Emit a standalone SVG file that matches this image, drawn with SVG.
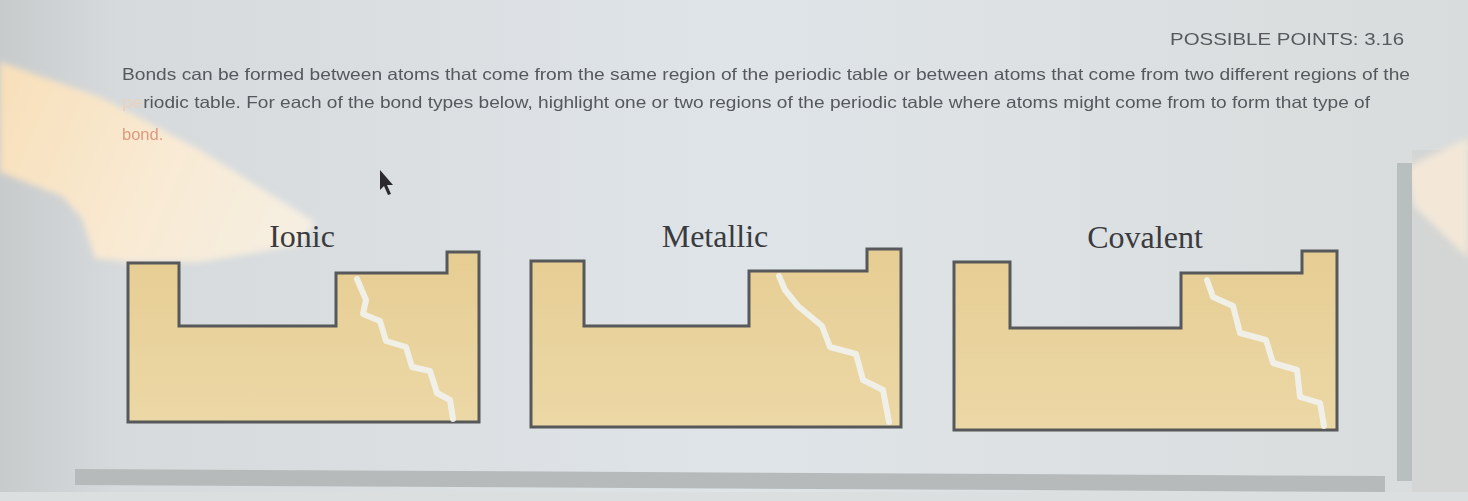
<svg xmlns="http://www.w3.org/2000/svg" width="1468" height="501" viewBox="0 0 1468 501">
<defs>
<style>
.para{font-family:"Liberation Sans",Arial,sans-serif;font-size:16.5px;fill:#55595d}
.pts{font-family:"Liberation Sans",Arial,sans-serif;font-size:17px;fill:#565a5e}
.lbl{font-family:"Liberation Serif","Times New Roman",serif;font-size:32px;fill:#3a3b3e;text-anchor:middle}
.tbl{fill:url(#tfill);stroke:#56585a;stroke-width:3;stroke-linejoin:miter}
.crack{fill:none;stroke:#f1f3ef;stroke-width:6;stroke-linejoin:round;stroke-linecap:round;opacity:0.9}
</style>
<linearGradient id="bg" x1="0" y1="0" x2="1" y2="0">
<stop offset="0" stop-color="#c8cbcc"/>
<stop offset="0.08" stop-color="#d6dadc"/>
<stop offset="0.5" stop-color="#dfe4e8"/>
<stop offset="1" stop-color="#d8dcdc"/>
</linearGradient>
<linearGradient id="tfill" x1="0" y1="0" x2="0" y2="1">
<stop offset="0" stop-color="#e6cd93"/>
<stop offset="1" stop-color="#ecd8a6"/>
</linearGradient>
<linearGradient id="glare" gradientUnits="userSpaceOnUse" x1="0" y1="100" x2="320" y2="240">
<stop offset="0" stop-color="#f8e0bb"/>
<stop offset="0.5" stop-color="#f9ead4"/>
<stop offset="1" stop-color="#f5efe3"/>
</linearGradient>
<filter id="blur" x="-20%" y="-20%" width="140%" height="140%"><feGaussianBlur stdDeviation="3"/></filter>
<filter id="soft"><feGaussianBlur stdDeviation="0.5"/></filter>
</defs>

<rect width="1468" height="501" fill="url(#bg)"/>
<rect x="1412" y="150" width="56" height="351" fill="#d4d6d5"/>

<g id="glare-left" filter="url(#blur)">
<polygon points="0,62 100,97 200,150 315,222 300,245 200,262 130,262 95,258 82,218 62,196 0,172" fill="url(#glare)"/>
</g>
<g id="glare-right" filter="url(#blur)">
<polygon points="1406,168 1468,138 1468,258 1414,206" fill="#f3e7d8"/>
</g>

<g id="frame">
<rect x="1397" y="163" width="15" height="318" fill="#b9bebe"/>
<polygon points="75,469 1385,476 1385,492 75,485" fill="#b6baba"/>
<rect x="0" y="492" width="1468" height="9" fill="#dcdfe0"/>
</g>

<g id="header" filter="url(#soft)">
<text class="pts" x="1170" y="45" textLength="234" lengthAdjust="spacingAndGlyphs">POSSIBLE POINTS: 3.16</text>
<text class="para" x="122" y="80" textLength="1288" lengthAdjust="spacingAndGlyphs">Bonds can be formed between atoms that come from the same region of the periodic table or between atoms that come from two different regions of the</text>
<text class="para" x="122" y="108" textLength="1248" lengthAdjust="spacingAndGlyphs"><tspan style="fill:#ead2bd">pe</tspan>riodic table. For each of the bond types below, highlight one or two regions of the periodic table where atoms might come from to form that type of</text>
<text class="para" x="122" y="140" style="fill:#dc9a80">bond.</text>
</g>

<g id="cursor">
<polygon points="380,170 380,190 384,186 388,195 391,194 387,185 393,185" fill="#2b2c2e" filter="url(#soft)"/>
</g>

<g id="ionic">
<text class="lbl" x="302" y="247">Ionic</text>
<path class="tbl" d="M128,263 H179 V326 H336 V273 H447 V252 H479 V422 H128 Z"/>
<path class="crack" d="M357,279 L366,300 L363,314 L380,321 L386,341 L406,347 L412,367 L430,371 L437,393 L450,400 L453,419"/>
</g>

<g id="metallic">
<text class="lbl" x="715" y="247">Metallic</text>
<path class="tbl" d="M531,261 H584 V326 H749 V271 H867 V249 H901 V427 H531 Z"/>
<path class="crack" d="M779,276 L785,290 L798,306 L822,326 L830,347 L856,354 L863,380 L883,390 L889,422"/>
</g>

<g id="covalent">
<text class="lbl" x="1145" y="248">Covalent</text>
<path class="tbl" d="M954,262 H1010 V328 H1181 V273 H1302 V251 H1337 V430 H954 Z"/>
<path class="crack" d="M1207,280 L1213,297 L1233,306 L1240,333 L1266,340 L1273,363 L1297,370 L1300,397 L1320,403 L1324,426"/>
</g>
</svg>
